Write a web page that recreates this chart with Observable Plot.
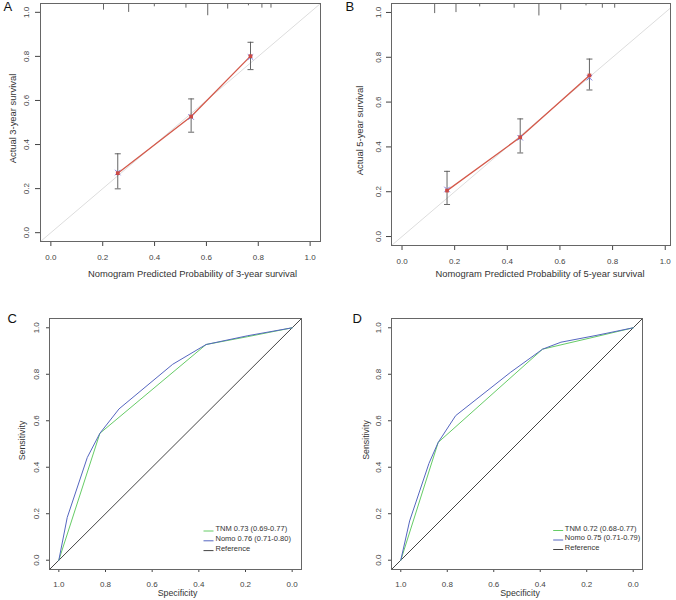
<!DOCTYPE html>
<html>
<head>
<meta charset="utf-8">
<script src="https://cdn.jsdelivr.net/npm/d3@7"></script>
<script src="https://cdn.jsdelivr.net/npm/@observablehq/plot@0.6"></script>
<style>
  html, body { margin: 0; padding: 0; background: #fff; }
  #fig { position: relative; width: 676px; height: 600px; overflow: hidden; background: #fff; }
</style>
</head>
<body>
<div id="fig"></div>
<script>
// ---------- shared tick values ----------
const TICKS = [0, 0.2, 0.4, 0.6, 0.8, 1.0];

// ---------- Panel A: calibration, 3-year ----------
const predA = [0.258, 0.541, 0.770];
const obsA  = [0.270, 0.527, 0.801];
const loA   = [0.199, 0.456, 0.740];
const hiA   = [0.358, 0.607, 0.864];
const corrA = [0.273, 0.525, 0.797];
const rugXA = [0.203, 0.300, 0.399, 0.521, 0.605, 0.682, 0.762, 0.814, 0.849];
const rugNA = [20, 27, 10, 14, 37, 17, 7, 14, 14];

// ---------- Panel B: calibration, 5-year ----------
const predB = [0.171, 0.449, 0.712];
const obsB  = [0.205, 0.443, 0.719];
const loB   = [0.143, 0.373, 0.654];
const hiB   = [0.291, 0.525, 0.792];
const corrB = [0.210, 0.441, 0.709];
const rugXB = [0.124, 0.205, 0.295, 0.426, 0.520, 0.603, 0.699, 0.761, 0.808];
const rugNB = [30, 27, 10, 14, 37, 20, 7, 14, 14];

// ---------- Panel C: ROC, 3-year ----------
const specNomoC = [1, 0.964, 0.878, 0.824, 0.742, 0.512, 0.369, 0.190, 0];
const sensNomoC = [0, 0.184, 0.442, 0.546, 0.651, 0.843, 0.928, 0.966, 1];
const specTnmC  = [1, 0.824, 0.369, 0.190, 0];
const sensTnmC  = [0, 0.546, 0.928, 0.962, 1];
const legendC   = ["TNM 0.73 (0.69-0.77)", "Nomo 0.76 (0.71-0.80)", "Reference"];

// ---------- Panel D: ROC, 5-year ----------
const specNomoD = [1, 0.962, 0.879, 0.839, 0.764, 0.527, 0.390, 0.311, 0.160, 0];
const sensNomoD = [0, 0.169, 0.416, 0.507, 0.622, 0.809, 0.908, 0.938, 0.967, 1];
const specTnmD  = [1, 0.839, 0.390, 0.160, 0];
const sensTnmD  = [0, 0.507, 0.908, 0.962, 1];
const legendD   = ["TNM 0.72 (0.68-0.77)", "Nomo 0.75 (0.71-0.79)", "Reference"];

// ---------- styling ----------
const FONT = "'Liberation Sans', Arial, Helvetica, sans-serif";
const RED = "#d4594a", SQUARE = "#cc4a45", XBLUE = "#7878e0", BAR = "#555555";
const GREEN = "#66cc66", BLUE = "#5566c0", REF = "#444444";
const RUG_UNIT = 0.0015;
const fmt = d3.format(".1f");
const hSymbol = { draw(ctx, size) { const r = Math.sqrt(size / Math.PI); ctx.moveTo(-r, 0); ctx.lineTo(r, 0); } };

const fig = document.getElementById("fig");
function place(svg, left, top) {
  svg.style.position = "absolute";
  svg.style.left = left + "px";
  svg.style.top = top + "px";
  fig.appendChild(svg);
}

function axes(o) {
  return [
    Plot.axisX({ticks: TICKS, tickFormat: fmt, tickSize: o.tickSize, tickPadding: o.xPad, fontSize: 8, label: null}),
    Plot.axisY({ticks: TICKS, tickFormat: fmt, tickSize: o.tickSize, tickPadding: o.yPad, tickRotate: -90, fontSize: 8, label: null}),
    Plot.frame({stroke: "#666"}),
    Plot.text([o.xTitle], {frameAnchor: "bottom", textAnchor: "middle", dx: o.xTitleDx, dy: o.xTitleDy, fontSize: o.titleSize, fill: "#333"}),
    Plot.text([o.yTitle], {frameAnchor: "left", textAnchor: "middle", rotate: -90, dx: o.yTitleDx, dy: o.yTitleDy, fontSize: o.titleSize, fill: "#333"}),
    Plot.text([o.letter], {frameAnchor: "top-left", textAnchor: "start", lineAnchor: "top", dx: o.letterDx, dy: o.letterDy, fontSize: 13, fill: "#111"})
  ];
}

function calPanel(o) {
  const idx = d3.range(o.pred.length);
  const ridx = d3.range(o.rugX.length);
  const ymax = o.yDomain[1];
  const lo = Math.min(o.xDomain[0], o.yDomain[0]), hi = Math.max(o.xDomain[1], o.yDomain[1]);
  return Plot.plot({
    width: o.width, height: o.height,
    marginLeft: o.m[0], marginRight: o.m[1], marginTop: o.m[2], marginBottom: o.m[3],
    x: {domain: o.xDomain}, y: {domain: o.yDomain},
    style: {fontFamily: FONT, color: "#444", background: "#fff", overflow: "visible"},
    marks: [
      Plot.link([0], {x1: () => lo, y1: () => lo, x2: () => hi, y2: () => hi, stroke: "#dddddd", clip: true}),
      Plot.ruleX(ridx, {x: i => o.rugX[i], y1: () => ymax, y2: i => ymax - o.rugN[i] * RUG_UNIT, stroke: "#555", strokeWidth: 0.9}),
      Plot.ruleX(idx, {x: i => o.pred[i], y1: i => o.lo[i], y2: i => o.hi[i], stroke: BAR, strokeWidth: 0.9}),
      Plot.dot(idx, {x: i => o.pred[i], y: i => o.lo[i], symbol: hSymbol, r: 3, stroke: BAR, fill: "none", strokeWidth: 0.9}),
      Plot.dot(idx, {x: i => o.pred[i], y: i => o.hi[i], symbol: hSymbol, r: 3, stroke: BAR, fill: "none", strokeWidth: 0.9}),
      Plot.line(idx, {x: i => o.pred[i], y: i => o.obs[i], stroke: RED, strokeWidth: 1.3}),
      Plot.dot(idx, {x: i => o.pred[i], y: i => o.corr[i], symbol: "times", r: 2.6, stroke: XBLUE, strokeWidth: 1}),
      Plot.dot(idx, {x: i => o.pred[i], y: i => o.obs[i], symbol: "square", r: 2.1, fill: SQUARE, stroke: "none"}),
      ...axes(o)
    ]
  });
}

function rocPanel(o) {
  const nIdx = d3.range(o.specNomo.length);
  const tIdx = d3.range(o.specTnm.length);
  const colors = [GREEN, BLUE, REF];
  return Plot.plot({
    width: o.width, height: o.height,
    marginLeft: o.m[0], marginRight: o.m[1], marginTop: o.m[2], marginBottom: o.m[3],
    x: {domain: o.xDomain}, y: {domain: o.yDomain},
    style: {fontFamily: FONT, color: "#444", background: "#fff", overflow: "visible"},
    marks: [
      Plot.link([0], {x1: () => o.xDomain[0], y1: () => 1 - o.xDomain[0], x2: () => o.xDomain[1], y2: () => 1 - o.xDomain[1], stroke: REF, strokeWidth: 1, clip: true}),
      Plot.line(tIdx, {x: i => o.specTnm[i], y: i => o.sensTnm[i], stroke: GREEN, strokeWidth: 1}),
      Plot.line(nIdx, {x: i => o.specNomo[i], y: i => o.sensNomo[i], stroke: BLUE, strokeWidth: 1}),
      ...o.legend.flatMap((label, i) => [
        Plot.dot([label], {frameAnchor: "bottom-right", dx: o.legLineDx, dy: o.legDy0 + i * o.legStep, symbol: hSymbol, r: 5, stroke: colors[i], fill: "none", strokeWidth: 1}),
        Plot.text([label], {frameAnchor: "bottom-right", dx: o.legTextDx, dy: o.legDy0 + i * o.legStep, textAnchor: "start", fontSize: 7.5, fill: "#333"})
      ]),
      ...axes(o)
    ]
  });
}

place(calPanel({
  pred: predA, obs: obsA, lo: loA, hi: hiA, corr: corrA, rugX: rugXA, rugN: rugNA,
  width: 336, height: 300, m: [40, 16, 3, 59],
  xDomain: [-0.04, 1.04], yDomain: [-0.04, 1.04],
  tickSize: 5, xPad: 8, yPad: 7, titleSize: 9.4,
  xTitle: "Nomogram Predicted Probability of 3-year survival", xTitleDx: 12, xTitleDy: 35,
  yTitle: "Actual 3-year survival", yTitleDx: -28, yTitleDy: -4,
  letter: "A", letterDx: -37, letterDy: -1.5
}), 0, 0);

place(calPanel({
  pred: predB, obs: obsB, lo: loB, hi: hiB, corr: corrB, rugX: rugXB, rugN: rugNB,
  width: 340, height: 300, m: [55, 6, 3, 55],
  xDomain: [-0.04, 1.02], yDomain: [-0.04, 1.04],
  tickSize: 5, xPad: 8, yPad: 6, titleSize: 9.4,
  xTitle: "Nomogram Predicted Probability of 5-year survival", xTitleDx: 9, xTitleDy: 31,
  yTitle: "Actual 5-year survival", yTitleDx: -31.7, yTitleDy: 6,
  letter: "B", letterDx: -46, letterDy: -1.5
}), 336, 0);

place(rocPanel({
  specNomo: specNomoC, sensNomo: sensNomoC, specTnm: specTnmC, sensTnm: sensTnmC, legend: legendC,
  width: 336, height: 300, m: [49, 35, 18, 31],
  xDomain: [1.04, -0.04], yDomain: [-0.04, 1.04],
  tickSize: 3, xPad: 9, yPad: 8, titleSize: 8.8,
  xTitle: "Specificity", xTitleDx: 2, xTitleDy: 26,
  yTitle: "Sensitivity", yTitleDx: -27.3, yTitleDy: -3.5,
  letter: "C", letterDx: -42, letterDy: -5,
  legLineDx: -93, legTextDx: -86, legDy0: -38.5, legStep: 9.8
}), 0, 300);

place(rocPanel({
  specNomo: specNomoD, sensNomo: sensNomoD, specTnm: specTnmD, sensTnm: sensTnmD, legend: legendD,
  width: 340, height: 300, m: [55, 34, 18, 31],
  xDomain: [1.04, -0.04], yDomain: [-0.04, 1.04],
  tickSize: 3, xPad: 9, yPad: 7.6, titleSize: 8.8,
  xTitle: "Specificity", xTitleDx: 3, xTitleDy: 26,
  yTitle: "Sensitivity", yTitleDx: -25.7, yTitleDy: -4,
  letter: "D", letterDx: -39, letterDy: -5,
  legLineDx: -84.3, legTextDx: -77.7, legDy0: -39, legStep: 9.5
}), 336, 300);
</script>
</body>
</html>
